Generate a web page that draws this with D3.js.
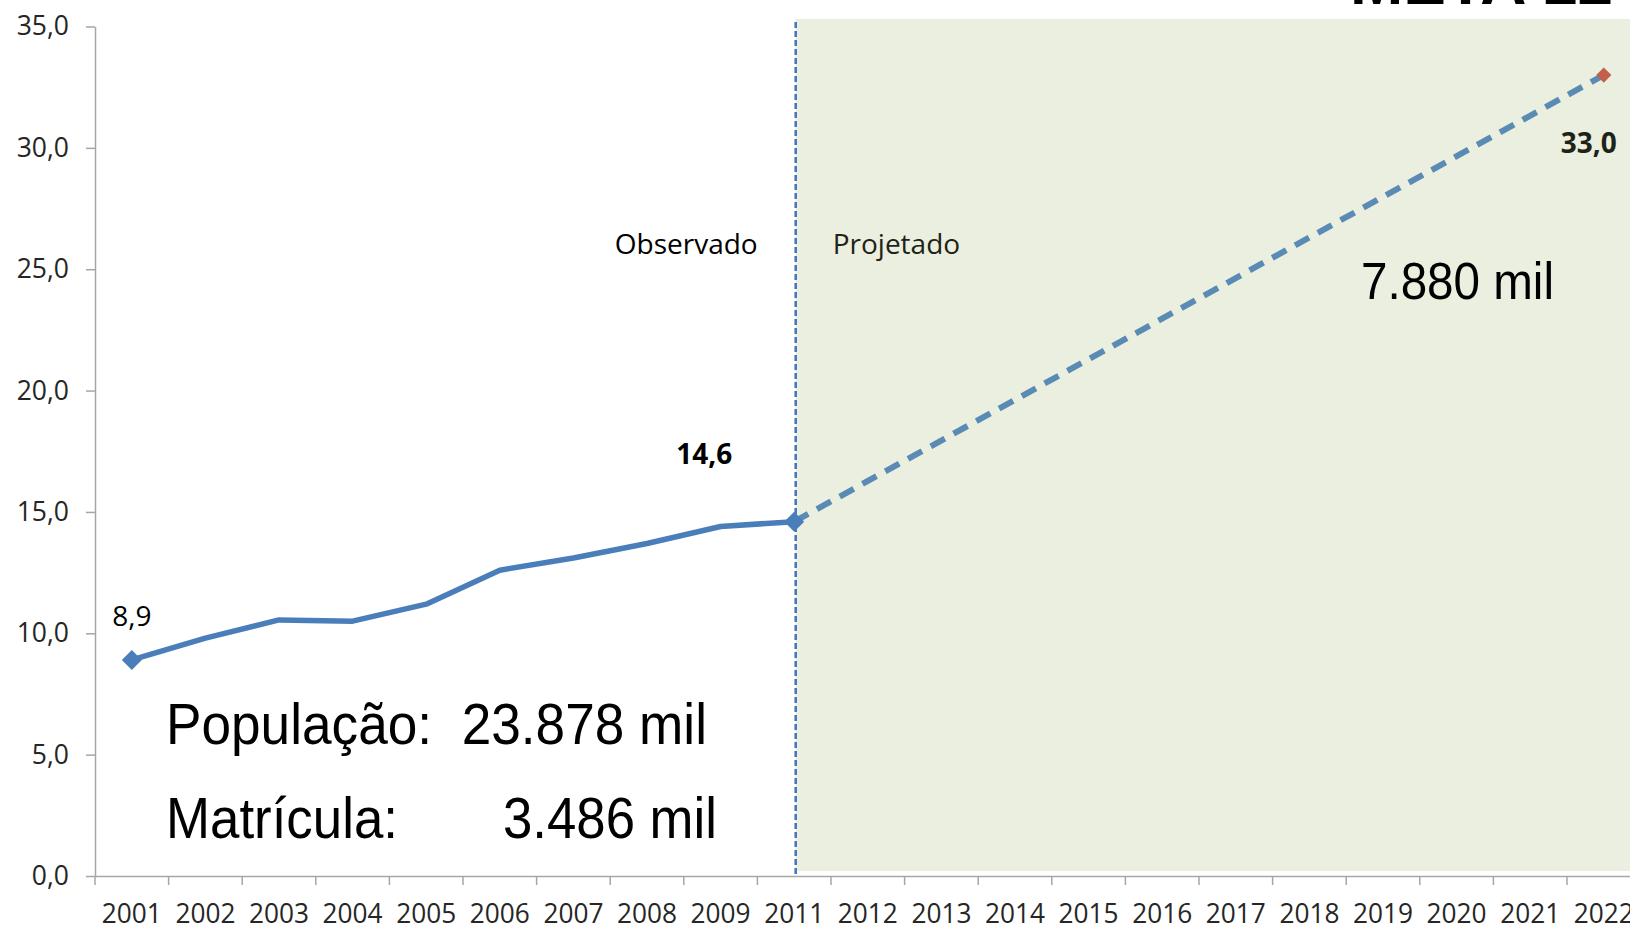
<!DOCTYPE html>
<html>
<head>
<meta charset="utf-8">
<script src="https://cdn.jsdelivr.net/npm/d3@7"></script>
<style>
  html, body { margin: 0; padding: 0; background: #fff; }
  svg { display: block; }
  text { white-space: pre; }
  .tick text { font-family: "Open Sans", sans-serif; fill: #262626; }
</style>
</head>
<body>
<svg id="chart" width="1630" height="927"></svg>
<script>
// Categories (note: 2010 is absent in the source chart)
const years = ['2001', '2002', '2003', '2004', '2005', '2006', '2007', '2008', '2009', '2011',
  '2012', '2013', '2014', '2015', '2016', '2017', '2018', '2019', '2020', '2021', '2022'];

// Observed rate, 2001-2011
const observedYears = ['2001', '2002', '2003', '2004', '2005', '2006', '2007', '2008', '2009', '2011'];
const observedValues = [8.9, 9.8, 10.55, 10.5, 11.2, 12.6, 13.1, 13.7, 14.4, 14.6];

// Projected goal, 2011 -> 2022
const projectedYears = ['2011', '2022'];
const projectedValues = [14.6, 33.0];

const yTicks = [0, 5, 10, 15, 20, 25, 30, 35];

const svg = d3.select('#chart');
const comma = d3.formatLocale({decimal: ',', thousands: '.', grouping: [3], currency: ['', '']});
const fmt = comma.format('.1f');

// Scales: the plot runs off the right edge of the picture, as in the source
const x = d3.scaleBand().domain(years).range([95, 95 + 21 * 73.6]).padding(0);
const y = d3.scaleLinear().domain([0, 35]).range([876, 26.5]);
const cx = (d) => x(d) + x.bandwidth() / 2;

const observed = observedYears.map((year, i) => ({year, value: observedValues[i]}));
const projected = projectedYears.map((year, i) => ({year, value: projectedValues[i]}));

// Shaded "projected" region
const split = cx('2011') + 1.5;
svg.append('rect').
  attr('x', split).
  attr('y', 19).
  attr('width', 1630 - split).
  attr('height', 871 - 19).
  attr('fill', '#ebefdf');

// Title, cut by the top edge in the source
svg.append('text').
  attr('x', 1350).
  attr('y', 4).
  attr('textLength', 263).
  attr('lengthAdjust', 'spacingAndGlyphs').
  style('font', 'bold 68px "Liberation Sans", Arial, sans-serif').
  text('META 12');

// Y axis
const yAxis = svg.append('g').
  attr('transform', 'translate(95,0)').
  call(d3.axisLeft(y).tickValues(yTicks).tickFormat(fmt).tickSize(9).tickSizeOuter(0).tickPadding(17));
yAxis.select('.domain').attr('stroke', '#a6a6a6').attr('stroke-width', 1.5);
yAxis.selectAll('.tick line').attr('stroke', '#a6a6a6').attr('stroke-width', 1.5);
yAxis.selectAll('.tick text').style('font-size', '26.5px');

// X axis: labels at band centres, ticks at band boundaries
const xAxis = svg.append('g').
  attr('transform', 'translate(0,876)').
  call(d3.axisBottom(x).tickSize(0).tickPadding(28));
xAxis.select('.domain').attr('stroke', '#a6a6a6').attr('stroke-width', 1.5);
xAxis.selectAll('.tick text').
  style('font-size', '27px').
  attr('dy', '0.71em').
  attr('textLength', 60).
  attr('lengthAdjust', 'spacingAndGlyphs');
xAxis.selectAll('.boundary').
  data(years.concat(['end'])).
  enter().
  append('line').
    attr('class', 'boundary').
    attr('x1', (d) => d === 'end' ? x.range()[1] : x(d)).
    attr('x2', (d) => d === 'end' ? x.range()[1] : x(d)).
    attr('y1', 0).
    attr('y2', 9).
    attr('stroke', '#a6a6a6').
    attr('stroke-width', 1.5);

// Observed / projected divider
svg.append('line').
  attr('x1', split).
  attr('x2', split).
  attr('y1', 22).
  attr('y2', 877).
  attr('stroke', '#4472c4').
  attr('stroke-width', 2.5).
  attr('stroke-dasharray', '6,3');

const sectionFont = '28px "Open Sans", sans-serif';
svg.append('text').
  attr('x', split - 38).
  attr('y', 254).
  attr('text-anchor', 'end').
  style('font', sectionFont).
  attr('fill', '#000').
  text('Observado');
svg.append('text').
  attr('x', split + 37).
  attr('y', 254).
  style('font', sectionFont).
  attr('fill', '#1f2317').
  text('Projetado');

const line = d3.line().x((d) => cx(d.year)).y((d) => y(d.value));

// Projected dashed line
svg.append('path').
  datum(projected).
  attr('d', line).
  attr('fill', 'none').
  attr('stroke', '#5a8bb5').
  attr('stroke-width', 6).
  attr('stroke-dasharray', '16,10');

// Observed line
svg.append('path').
  datum(observed).
  attr('d', line).
  attr('fill', 'none').
  attr('stroke', '#4a7ebb').
  attr('stroke-width', 5.5).
  attr('stroke-linejoin', 'round');

// Markers: first/last observed point, and the goal point
const diamond = (size) => d3.symbol().type(d3.symbolSquare).size(size)();
svg.selectAll('.obs-marker').
  data([observed[0], observed[observed.length - 1]]).
  enter().
  append('path').
    attr('class', 'obs-marker').
    attr('d', diamond(200)).
    attr('transform', (d) => `translate(${cx(d.year)},${y(d.value)}) rotate(45)`).
    attr('fill', '#4a7ebb');
svg.append('path').
  datum(projected[1]).
  attr('d', diamond(115)).
  attr('transform', (d) => `translate(${cx(d.year)},${y(d.value)}) rotate(45)`).
  attr('fill', '#c0604d');

// Data labels
const labels = [
  {d: observed[0], dx: 0, dy: -34, bold: false, fill: '#000'},
  {d: observed[observed.length - 1], dx: -90, dy: -58, bold: true, fill: '#000'},
  {d: projected[1], dx: -15, dy: 78, bold: true, fill: '#1f2317'}
];
svg.selectAll('.data-label').
  data(labels).
  enter().
  append('text').
    attr('class', 'data-label').
    attr('x', (l) => cx(l.d.year) + l.dx).
    attr('y', (l) => y(l.d.value) + l.dy).
    attr('text-anchor', 'middle').
    attr('fill', (l) => l.fill).
    style('font', (l) => `${l.bold ? 'bold ' : ''}28px "Open Sans", sans-serif`).
    text((l) => fmt(l.d.value));

// Annotations
const bigFont = '57px "Liberation Sans", Arial, sans-serif';
svg.append('text').
  attr('x', 166).attr('y', 744).
  attr('textLength', 541).attr('lengthAdjust', 'spacingAndGlyphs').
  style('font', bigFont).
  text('População:  23.878 mil');
svg.append('text').
  attr('x', 166).attr('y', 838).
  attr('textLength', 232).attr('lengthAdjust', 'spacingAndGlyphs').
  style('font', bigFont).
  text('Matrícula:');
svg.append('text').
  attr('x', 503).attr('y', 838).
  attr('textLength', 214).attr('lengthAdjust', 'spacingAndGlyphs').
  style('font', bigFont).
  text('3.486 mil');
svg.append('text').
  attr('x', 1361).attr('y', 299).
  attr('textLength', 193).attr('lengthAdjust', 'spacingAndGlyphs').
  style('font', '52px "Liberation Sans", Arial, sans-serif').
  text('7.880 mil');
</script>
</body>
</html>
